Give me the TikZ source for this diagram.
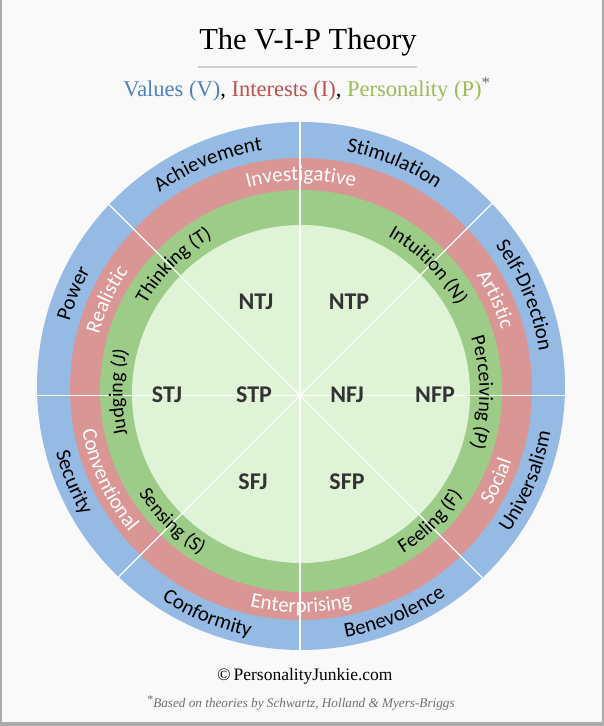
\documentclass[tikz,border=0pt]{standalone}
\usepackage{fontspec}
\setmainfont{Liberation Serif}
\newfontfamily\calib{Carlito}
\usetikzlibrary{decorations.text,calc}
\definecolor{bgc}{HTML}{F9F9F9}
\definecolor{framec}{HTML}{ABABAB}
\definecolor{ringblue}{HTML}{95BAE4}
\definecolor{ringred}{HTML}{D99694}
\definecolor{ringgreen}{HTML}{9DCB88}
\definecolor{ringlight}{HTML}{DFF4D7}
\definecolor{txtblue}{HTML}{4F81BD}
\definecolor{txtred}{HTML}{C0504D}
\definecolor{txtgreen}{HTML}{9BBB59}
\definecolor{darktxt}{HTML}{333333}
\definecolor{notegray}{HTML}{6E6E6E}
\newcommand\ringfont{\calib\fontsize{21}{24}\selectfont}
\newcommand\persfont{\calib\fontsize{20}{24}\selectfont}
% #1 center, #2 radius, #3 angle, #4 half span, #5 text, #6 colour, #7 font
\newcommand\toparc[7]{\path[decorate,decoration={text along path,text align=center,text color=#6,text={|#7|#5}}]
  ($(#1)+(#3+#4:#2)$) arc[start angle=#3+#4, end angle=#3-#4, radius=#2];}
\newcommand\botarc[7]{\path[decorate,decoration={text along path,text align=center,text color=#6,text={|#7|#5}}]
  ($(#1)+(#3-#4:#2)$) arc[start angle=#3-#4, end angle=#3+#4, radius=#2];}
\begin{document}
\begin{tikzpicture}[x=1pt,y=1pt,
  typenode/.style={font=\calib\bfseries\fontsize{24}{26}\selectfont, text=darktxt, inner sep=0pt},
  divider/.style={draw=white, line width=1.3pt}]
\useasboundingbox (0,0) rectangle (604,726);
\fill[bgc] (0,0) rectangle (604,726);
\fill[framec] (0,0) rectangle (2,726);
\fill[framec] (601.5,0) rectangle (604,726);
\fill[framec] (0,0) rectangle (604,3.5);
% centres
\coordinate (cb) at (301,340);
\coordinate (cr) at (301,337);
\coordinate (cg) at (301,335);
\coordinate (cl) at (301,332);
\coordinate (cx) at (300,330.5);
\coordinate (tb) at (301,338);
\coordinate (tr) at (301,336);
\coordinate (tg) at (301,333.5);
% rings
\fill[ringblue] (cb) circle[radius=264];
\fill[ringred] (cr) circle[radius=231];
\fill[ringgreen] (cg) circle[radius=201];
\fill[ringlight] (cl) circle[radius=169];
% dividers
\begin{scope}
\clip (cb) circle[radius=264];
\foreach \a in {0,45,...,315}{\draw[divider] (cx) -- ++(\a:300);}
\end{scope}
% values (blue ring)
\toparc{tb}{241}{112.5}{38}{Achievement}{black}{\ringfont}
\toparc{tb}{241}{67.5}{38}{Stimulation}{black}{\ringfont}
\toparc{tb}{241}{22.5}{38}{Self-Direction}{black}{\ringfont}
\toparc{tb}{241}{157.5}{38}{Power}{black}{\ringfont}
\botarc{tb}{253.5}{-22.5}{38}{Universalism}{black}{\ringfont}
\botarc{tb}{253.5}{-67.5}{38}{Benevolence}{black}{\ringfont}
\botarc{tb}{253.5}{-112.5}{38}{Conformity}{black}{\ringfont}
\botarc{tb}{253.5}{-157.5}{38}{Security}{black}{\ringfont}
% interests (red ring)
\toparc{tr}{209.5}{90}{34}{Investigative}{white}{\ringfont}
\toparc{tr}{209.5}{25}{34}{Artistic}{white}{\ringfont}
\toparc{tr}{209.5}{155}{34}{Realistic}{white}{\ringfont}
\botarc{tr}{222.5}{-25}{34}{Social}{white}{\ringfont}
\botarc{tr}{222.5}{-90}{34}{Enterprising}{white}{\ringfont}
\botarc{tr}{222.5}{-155}{34}{Conventional}{white}{\ringfont}
% personality (green ring)
\toparc{tg}{178.5}{135}{34}{Thinking (T)}{black}{\persfont}
\toparc{tg}{178.5}{45}{34}{Intuition (N)}{black}{\persfont}
\toparc{tg}{178.5}{0}{34}{Perceiving (P)}{black}{\persfont}
\toparc{tg}{178.5}{180}{34}{Judging (J)}{black}{\persfont}
\botarc{tg}{191}{-45}{34}{Feeling (F)}{black}{\persfont}
\botarc{tg}{191}{-135}{34}{Sensing (S)}{black}{\persfont}
% type labels
\node[typenode] (ntj) at (256,424) {NTJ};
\node[typenode] (ntp) at (349,424) {NTP};
\node[typenode] (stj) at (167,331) {STJ};
\node[typenode] (stp) at (254,331) {STP};
\node[typenode] (nfj) at (347,331) {NFJ};
\node[typenode] (nfp) at (435,331) {NFP};
\node[typenode] (sfj) at (253,244) {SFJ};
\node[typenode] (sfp) at (347,244) {SFP};
% title
\node[font=\fontsize{30.5}{34}\selectfont, inner sep=0pt] (title) at (308,684) {The V-I-P Theory};
\draw[draw=black!18, line width=1.5pt] (198,659) -- (417,659);
\node[anchor=base, inner sep=0pt, font=\fontsize{22.5}{26}\selectfont] (sub) at (302.5,629)
  {\textcolor{txtblue}{Values (V)},\ \textcolor{txtred}{Interests (I)},\ \textcolor{txtgreen}{Personality (P)}\rlap{\textcolor{notegray}{\raisebox{8pt}{\fontsize{17}{17}\selectfont*}}}};
% footer
\node[font=\fontsize{17.5}{20}\selectfont, inner sep=0pt] (copy) at (305,50) {\char"00A9\,PersonalityJunkie.com};
\node[font=\itshape\fontsize{13.2}{15}\selectfont, text=notegray, inner sep=0pt] (note) at (301,23)
  {\raisebox{4pt}{\upshape\fontsize{12}{12}\selectfont*}Based on theories by Schwartz, Holland \& Myers-Briggs};
\end{tikzpicture}
\end{document}
